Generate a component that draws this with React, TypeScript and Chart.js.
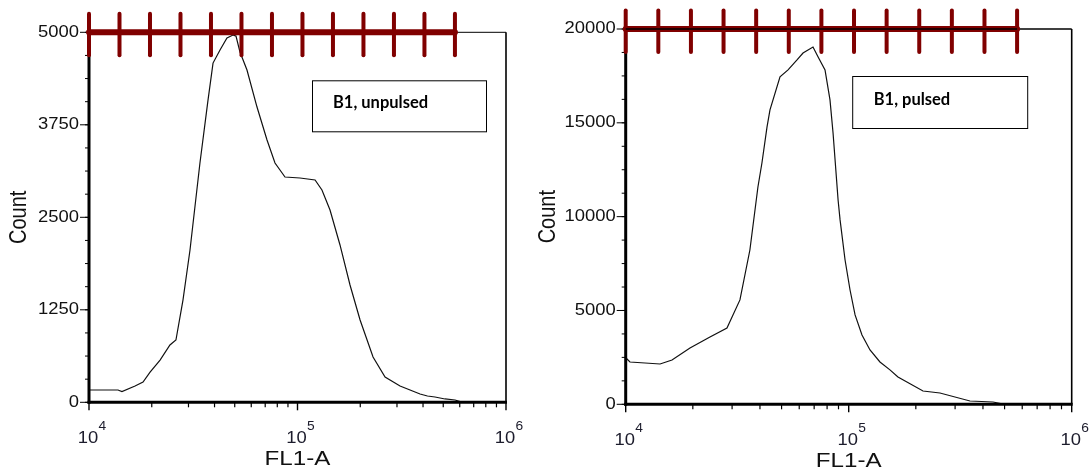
import React, { useEffect, useRef } from "react";
import { Chart, registerables } from "chart.js";

Chart.register(...registerables);

// ---- Data ----
const unpulsedFL1 = [
  10000, 13770, 14390, 16630, 18160, 19630, 21920, 24450, 26120, 28230, 30510, 34050, 37220,
  39340, 42500, 45890, 49050, 50700, 52980, 57240, 63940, 71420, 78000, 87100, 102800, 121400,
  131000, 143200, 159900, 178600, 199600, 230300, 263000, 310300, 387000, 420000, 456500,
  509800, 569500, 620000, 1000000,
];
const unpulsedCount = [
  166, 166, 146, 220, 274, 409, 571, 774, 842, 1382, 2058, 3234, 4084, 4584, 4760, 4922, 4963,
  4949, 4733, 4490, 3990, 3544, 3234, 3044, 3031, 3004, 2869, 2599, 2126, 1585, 1112, 612, 342,
  220, 112, 85, 72, 45, 31, 0, 0,
];

const pulsedFL1 = [
  10030, 10450, 12210, 14260, 16130, 19420, 23870, 28450, 32530, 36050, 39170, 40820, 43030,
  44360, 49200, 53460, 58650, 62390, 69180, 72830, 78310, 82430, 85080, 89620, 91480, 96320,
  101400, 106800, 114700, 124600, 138100, 153100, 166300, 215400, 256600, 349800, 443800,
  500000, 1000000,
];
const pulsedCount = [
  2467, 2254, 2201, 2148, 2361, 3000, 3586, 4066, 5564, 8223, 11580, 12860, 14780, 15690,
  17450, 17820, 18350, 18720, 19040, 18520, 17820, 16220, 14460, 10890, 9827, 7690, 6091,
  4764, 3693, 2894, 2254, 1833, 1455, 709, 602, 176, 123, 0, 0,
];

const xMajorTicks = [10000, 100000, 1000000];
const xTickExponents = ["4", "5", "6"];
const unpulsedYTicks = [0, 1250, 2500, 3750, 5000];
const pulsedYTicks = [0, 5000, 10000, 15000, 20000];
const unpulsedYMinorStep = 312.5;
const pulsedYMinorStep = 1250;
const gateRange = [10000, 569000];
const gateTickCount = 13;
const xAxisTitle = "FL1-A";
const yAxisTitle = "Count";
const sampleLabels = ["B1, unpulsed", "B1, pulsed"];

const AXIS_FONT = '"Liberation Sans", Arial, sans-serif';
const SX = 1.15;
const GATE_COLOR = "#800000";

function stretchText(
  ctx: CanvasRenderingContext2D,
  text: string,
  x: number,
  y: number,
  font: string,
  align: CanvasTextAlign,
  baseline: CanvasTextBaseline,
  sx = SX,
  rotate = 0
) {
  ctx.save();
  ctx.translate(x, y);
  ctx.scale(sx, 1);
  if (rotate) ctx.rotate(rotate);
  ctx.font = font;
  ctx.textAlign = align;
  ctx.textBaseline = baseline;
  ctx.fillText(text, 0, 0);
  ctx.restore();
}

type Decor = {
  yTicks: number[];
  yMinorStep: number;
  label: string;
  box: { dx: number; dy: number; w: number; h: number; tx: number; ty: number };
  titleDx: number;
  borderOnTop: boolean;
};

function makeDecorPlugin(d: Decor) {
  return {
    id: "flowDecor",
    afterDraw(chart: any) {
      const ctx: CanvasRenderingContext2D = chart.ctx;
      const xs = chart.scales.x;
      const ys = chart.scales.y;
      const { left, right, top, bottom } = chart.chartArea;
      const yMax = d.yTicks[d.yTicks.length - 1];
      const yTopPx = ys.getPixelForValue(yMax);
      ctx.save();
      ctx.fillStyle = "#111";
      ctx.strokeStyle = "#000";

      // thin frame (top & right)
      ctx.lineWidth = d.borderOnTop ? 1.6 : 1;
      ctx.beginPath();
      ctx.moveTo(left, yTopPx);
      ctx.lineTo(right, yTopPx);
      ctx.stroke();
      ctx.lineWidth = 1.6;
      ctx.beginPath();
      ctx.moveTo(right, yTopPx);
      ctx.lineTo(right, bottom);
      ctx.stroke();

      // y axis line and ticks
      ctx.lineWidth = 3;
      ctx.beginPath();
      ctx.moveTo(left, yTopPx);
      ctx.lineTo(left, bottom + 1.5);
      ctx.stroke();
      ctx.lineWidth = 1;
      for (let v = 0; v <= yMax + 0.001; v += d.yMinorStep) {
        const y = ys.getPixelForValue(v);
        ctx.beginPath();
        ctx.moveTo(left - 4, y);
        ctx.lineTo(left, y);
        ctx.stroke();
      }
      d.yTicks.forEach((v) => {
        const y = ys.getPixelForValue(v);
        ctx.beginPath();
        ctx.moveTo(left - 9, y);
        ctx.lineTo(left, y);
        ctx.stroke();
        stretchText(ctx, String(v), left - 10, y, `16px ${AXIS_FONT}`, "right", "middle");
      });

      // x axis line and ticks
      ctx.lineWidth = 3;
      ctx.beginPath();
      ctx.moveTo(left - 1.5, bottom);
      ctx.lineTo(right + 1, bottom);
      ctx.stroke();
      ctx.lineWidth = 1.2;
      for (let i = 0; i < xMajorTicks.length - 1; i++) {
        for (let k = 2; k <= 9; k++) {
          const x = xs.getPixelForValue(xMajorTicks[i] * k);
          ctx.beginPath();
          ctx.moveTo(x, bottom);
          ctx.lineTo(x, bottom + 5);
          ctx.stroke();
        }
      }
      xMajorTicks.forEach((v, i) => {
        const x = xs.getPixelForValue(v);
        ctx.lineWidth = 1.4;
        ctx.beginPath();
        ctx.moveTo(x, bottom);
        ctx.lineTo(x, bottom + 8);
        ctx.stroke();
        ctx.fillStyle = "#1c1c2c";
        stretchText(ctx, "10", x - 1, bottom + 41, `16px ${AXIS_FONT}`, "center", "alphabetic");
        stretchText(ctx, xTickExponents[i], x + 9.5, bottom + 28, `12px ${AXIS_FONT}`, "left", "alphabetic");
        ctx.fillStyle = "#111";
      });

      // axis titles
      stretchText(ctx, xAxisTitle, (left + right) / 2, bottom + 63, `21px ${AXIS_FONT}`, "center", "alphabetic");
      stretchText(
        ctx,
        yAxisTitle,
        left + d.titleDx,
        (top + bottom) / 2,
        `20px ${AXIS_FONT}`,
        "center",
        "middle",
        SX,
        -Math.PI / 2
      );

      // gate marker
      const g0 = Math.log10(gateRange[0]);
      const g1 = Math.log10(gateRange[1]);
      const gx0 = xs.getPixelForValue(gateRange[0]);
      const gx1 = xs.getPixelForValue(gateRange[1]);
      ctx.strokeStyle = GATE_COLOR;
      ctx.lineCap = "round";
      ctx.lineWidth = 6;
      ctx.beginPath();
      ctx.moveTo(gx0, yTopPx);
      ctx.lineTo(gx1, yTopPx);
      ctx.stroke();
      ctx.lineWidth = 4;
      for (let i = 0; i < gateTickCount; i++) {
        const v = Math.pow(10, g0 + ((g1 - g0) * i) / (gateTickCount - 1));
        const x = xs.getPixelForValue(v);
        ctx.beginPath();
        ctx.moveTo(x, yTopPx - 18.5);
        ctx.lineTo(x, yTopPx + 23);
        ctx.stroke();
      }
      ctx.lineCap = "butt";
      if (d.borderOnTop) {
        ctx.strokeStyle = "#000";
        ctx.lineWidth = 1.6;
        ctx.beginPath();
        ctx.moveTo(gx0, yTopPx);
        ctx.lineTo(gx1, yTopPx);
        ctx.stroke();
      }

      // sample label box
      const b = d.box;
      ctx.fillStyle = "#fff";
      ctx.fillRect(left + b.dx, top + b.dy, b.w, b.h);
      ctx.strokeStyle = "#000";
      ctx.lineWidth = 1;
      ctx.strokeRect(left + b.dx + 0.5, top + b.dy + 0.5, b.w, b.h);
      ctx.fillStyle = "#000";
      ctx.font = `bold 16.5px Lato, "Open Sans", sans-serif`;
      ctx.textAlign = "left";
      ctx.textBaseline = "middle";
      ctx.fillText(d.label, left + b.dx + b.tx, top + b.ty);
      ctx.restore();
    },
  };
}

function FlowHistogram(props: {
  xs: number[];
  ys: number[];
  yMax: number;
  width: number;
  height: number;
  offsetLeft: number;
  padding: { left: number; right: number; top: number; bottom: number };
  decor: Decor;
}) {
  const ref = useRef<HTMLCanvasElement | null>(null);
  useEffect(() => {
    if (!ref.current) return;
    const chart = new Chart(ref.current, {
      type: "line",
      data: {
        datasets: [
          {
            data: props.xs.map((x, i) => ({ x, y: props.ys[i] })),
            borderColor: "#111",
            borderWidth: 1.2,
            pointRadius: 0,
            tension: 0,
            fill: false,
          },
        ],
      },
      options: {
        animation: false,
        responsive: false,
        maintainAspectRatio: false,
        layout: { padding: props.padding },
        plugins: { legend: { display: false }, tooltip: { enabled: false } },
        scales: {
          x: { type: "logarithmic", min: 10000, max: 1000000, display: false },
          y: { type: "linear", min: 0, max: props.yMax, display: false },
        },
      },
      plugins: [makeDecorPlugin(props.decor)],
    });
    return () => chart.destroy();
  }, []);
  return (
    <canvas
      ref={ref}
      width={props.width}
      height={props.height}
      style={{
        position: "absolute",
        left: props.offsetLeft,
        top: 0,
        width: props.width,
        height: props.height,
      }}
    />
  );
}

export default function App() {
  return (
    <div
      style={{
        position: "absolute",
        left: 0,
        top: 0,
        width: 1091,
        height: 473,
        background: "#fff",
        overflow: "hidden",
      }}
    >
      <FlowHistogram
        xs={unpulsedFL1}
        ys={unpulsedCount}
        yMax={unpulsedYTicks[unpulsedYTicks.length - 1]}
        width={530}
        height={473}
        offsetLeft={0}
        padding={{ left: 89, right: 24, top: 32.3, bottom: 70.7 }}
        decor={{
          yTicks: unpulsedYTicks,
          yMinorStep: unpulsedYMinorStep,
          label: sampleLabels[0],
          box: { dx: 223, dy: 48, w: 174, h: 51, tx: 21, ty: 70 },
          titleDx: -69,
          borderOnTop: false,
        }}
      />
      <FlowHistogram
        xs={pulsedFL1}
        ys={pulsedCount}
        yMax={pulsedYTicks[pulsedYTicks.length - 1]}
        width={561}
        height={473}
        offsetLeft={530}
        padding={{ left: 95.7, right: 19.3, top: 29, bottom: 68.7 }}
        decor={{
          yTicks: pulsedYTicks,
          yMinorStep: pulsedYMinorStep,
          label: sampleLabels[1],
          box: { dx: 226.5, dy: 47, w: 175, h: 52, tx: 21.5, ty: 71 },
          titleDx: -77,
          borderOnTop: true,
        }}
      />
    </div>
  );
}
